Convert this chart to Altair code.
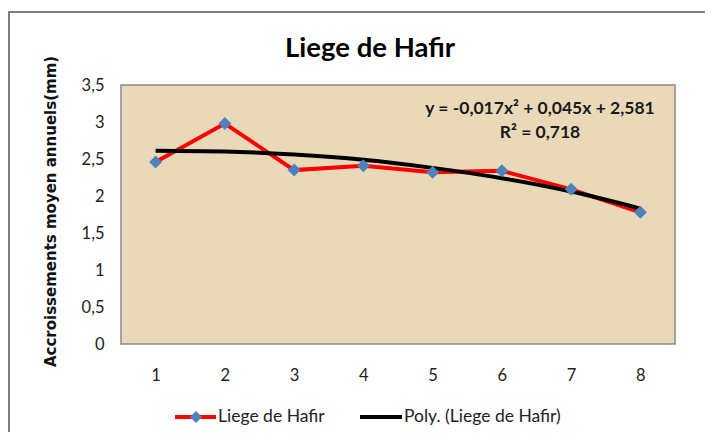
import altair as alt
import pandas as pd

# ---- data ----
years = [1, 2, 3, 4, 5, 6, 7, 8]
liege = [2.46, 2.98, 2.35, 2.41, 2.32, 2.34, 2.09, 1.78]
poly = [2.61, 2.60, 2.56, 2.49, 2.38, 2.24, 2.06, 1.83]
y_ticks = [0, 0.5, 1, 1.5, 2, 2.5, 3, 3.5]
series_names = ["Liege de Hafir", "Poly. (Liege de Hafir)"]
title_text = "Liege de Hafir"
y_title = "Accroissements moyen annuels(mm)"
equation_lines = ["y = -0,017x\u00b2 + 0,045x + 2,581", "R\u00b2 = 0,718"]

df = pd.DataFrame({"x": years, "liege": liege, "poly": poly})

W, H = 554, 259
FONT = "Lato"

x_scale = alt.Scale(domain=[0.5, 8.5], nice=False, zero=False)
x_axis = alt.Axis(
    values=years, ticks=False, grid=False, domain=False, title=None, format="d",
    labelFont=FONT, labelFontSize=16.5, labelColor="#222222", labelPadding=23,
)
y_scale = alt.Scale(domain=[0, 3.5], nice=False)
y_axis = alt.Axis(
    values=y_ticks, ticks=False, grid=False, domain=False, labelOverlap=False,
    title=y_title, titleFont="DejaVu Sans", titleFontWeight="bold", titleFontSize=15,
    titleColor="#111111", titleAngle=-90, titleX=-71, titleY=126,
    titleAlign="center", titleBaseline="middle",
    labelFont=FONT, labelFontSize=16.5, labelColor="#222222", labelPadding=17,
    labelExpr="replace(toString(datum.value), '.', ',')",
)

base = alt.Chart(df)
X = alt.X("x:Q", scale=x_scale, axis=x_axis)

red_line = base.mark_line(color="#FF0000", strokeWidth=4).encode(
    x=X, y=alt.Y("liege:Q", scale=y_scale, axis=y_axis),
)
trend = base.mark_line(color="#000000", strokeWidth=4, interpolate="monotone").encode(
    x=X, y=alt.Y("poly:Q", scale=y_scale, axis=y_axis),
)
points = base.mark_point(shape="diamond", filled=True, size=170, color="#4F81BD", opacity=1).encode(
    x=X, y=alt.Y("liege:Q", scale=y_scale, axis=y_axis),
)

one = pd.DataFrame({"a": [0]})

# decorative outer frame of the chart object
frame = alt.Chart(one).mark_rect(
    fill=None, stroke="#808080", strokeWidth=2, clip=False
).encode(
    x=alt.value(-112), y=alt.value(-73), x2=alt.value(700), y2=alt.value(500)
)

title = alt.Chart(pd.DataFrame({"t": [title_text]})).mark_text(
    font=FONT, fontSize=27.5, fontWeight="bold", color="#000000", align="center", baseline="alphabetic"
).encode(text="t:N", x=alt.value(249), y=alt.value(-28))

eq1 = alt.Chart(pd.DataFrame({"t": [equation_lines[0]]})).mark_text(
    font=FONT, fontSize=17.5, fontWeight="bold", color="#1a1a1a", align="center", baseline="middle"
).encode(text="t:N", x=alt.value(419), y=alt.value(24))
eq2 = alt.Chart(pd.DataFrame({"t": [equation_lines[1]]})).mark_text(
    font=FONT, fontSize=17.5, fontWeight="bold", color="#1a1a1a", align="center", baseline="middle"
).encode(text="t:N", x=alt.value(419), y=alt.value(48))

# legend (drawn manually to mimic the line+marker symbol)
leg_red = alt.Chart(one).mark_rule(color="#FF0000", strokeWidth=4).encode(
    x=alt.value(54), x2=alt.value(95), y=alt.value(332)
)
leg_dia = alt.Chart(one).mark_point(
    shape="diamond", filled=True, size=150, color="#4F81BD", opacity=1
).encode(x=alt.value(75), y=alt.value(332))
leg_black = alt.Chart(one).mark_rule(color="#000000", strokeWidth=4).encode(
    x=alt.value(239), x2=alt.value(281), y=alt.value(332)
)
leg_txt1 = alt.Chart(pd.DataFrame({"t": [series_names[0]]})).mark_text(
    font=FONT, fontSize=17.5, color="#222222", align="left", baseline="middle"
).encode(text="t:N", x=alt.value(97), y=alt.value(332))
leg_txt2 = alt.Chart(pd.DataFrame({"t": [series_names[1]]})).mark_text(
    font=FONT, fontSize=17.5, color="#222222", align="left", baseline="middle"
).encode(text="t:N", x=alt.value(283), y=alt.value(332))

chart = alt.layer(
    frame, red_line, trend, points, title, eq1, eq2, leg_red, leg_dia, leg_black, leg_txt1, leg_txt2
).properties(
    width=W, height=H,
    autosize=alt.AutoSizeParams(type="none"),
    padding={"left": 113, "top": 77, "right": 30, "bottom": 88},
    background="#FFFFFF",
).configure_view(
    fill="#EAD9B8", stroke="#8a8a8a", strokeWidth=1.5
)

chart.save("out.html", embed_options={"renderer": "svg", "actions": False})
